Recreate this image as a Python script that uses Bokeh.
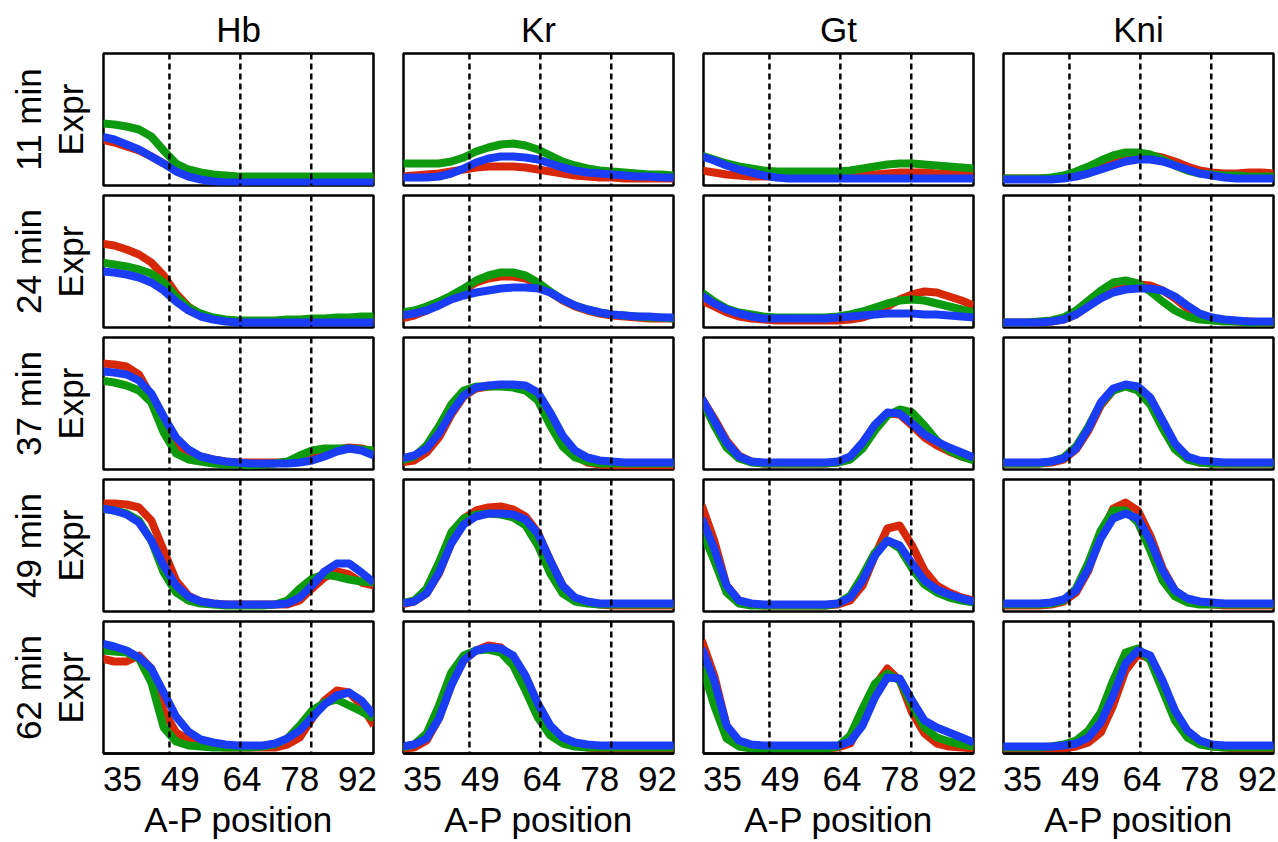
from bokeh.plotting import figure
from bokeh.layouts import column, row
from bokeh.models import Range1d, Span, FixedTicker, Title
from bokeh.embed import file_html
from bokeh.resources import INLINE

genes = ["Hb", "Kr", "Gt", "Kni"]
times = ["11 min", "24 min", "37 min", "49 min", "62 min"]
ap_pos = [30, 33, 36, 39, 42, 45, 48, 51, 54, 57, 60, 63, 66, 69, 72, 75, 78, 81, 84, 87, 90, 93, 96]
tick_vals = [35, 49, 64, 78, 92]
boundaries = [46.4, 63.6, 80.8]

# ---- 11 min ----
hb11_r = [46, 43, 39, 35, 29, 22, 16, 12, 10, 9, 8, 7, 7, 7, 7, 7, 7, 7, 7, 7, 7, 7, 7]
hb11_g = [62, 61, 59, 56, 49, 35, 22, 16, 13, 11, 10, 9, 9, 9, 9, 9, 9, 9, 9, 9, 9, 9, 9]
hb11_b = [49, 46, 41, 36, 29, 22, 14, 9, 6, 4, 3, 3, 3, 3, 3, 3, 3, 3, 3, 3, 3, 3, 3]
kr11_r = [9, 10, 11, 12, 14, 16, 18, 19, 19, 19, 18, 16, 14, 12, 10, 9, 8, 8, 7, 7, 7, 7, 7]
kr11_g = [22, 22, 22, 22, 24, 28, 34, 38, 41, 42, 40, 36, 30, 24, 20, 17, 15, 14, 13, 12, 11, 11, 10]
kr11_b = [8, 8, 8, 9, 12, 17, 23, 27, 29, 29, 28, 26, 22, 18, 15, 13, 12, 11, 10, 9, 9, 8, 8]
gt11_r = [15, 13, 11, 10, 9, 9, 9, 9, 9, 9, 9, 9, 9, 10, 11, 12, 13, 13, 13, 12, 12, 11, 11]
gt11_g = [30, 26, 22, 19, 17, 15, 14, 14, 14, 14, 14, 14, 15, 17, 19, 21, 22, 22, 21, 20, 19, 18, 17]
gt11_b = [29, 25, 20, 16, 13, 10, 8, 7, 7, 7, 7, 7, 7, 7, 7, 7, 7, 7, 7, 7, 7, 7, 7]
kni11_r = [7, 7, 7, 7, 7, 8, 11, 15, 20, 25, 28, 30, 30, 28, 24, 19, 15, 13, 12, 12, 13, 13, 12]
kni11_g = [7, 7, 7, 7, 8, 10, 14, 19, 25, 30, 33, 33, 31, 26, 20, 15, 12, 11, 10, 10, 9, 9, 9]
kni11_b = [6, 6, 6, 6, 6, 7, 9, 12, 16, 20, 24, 26, 26, 24, 20, 16, 12, 10, 8, 7, 7, 7, 7]

# ---- 24 min ----
hb24_r = [84, 82, 78, 73, 65, 52, 34, 21, 13, 9, 7, 6, 6, 6, 6, 6, 6, 6, 6, 6, 6, 6, 6]
hb24_g = [65, 63, 61, 58, 54, 45, 31, 20, 14, 10, 8, 7, 7, 7, 7, 8, 8, 9, 9, 10, 10, 11, 11]
hb24_b = [56, 55, 53, 50, 45, 37, 26, 17, 11, 8, 6, 5, 5, 5, 5, 5, 5, 5, 5, 5, 5, 5, 5]
kr24_r = [9, 12, 17, 24, 31, 38, 45, 49, 51, 51, 49, 43, 35, 27, 21, 17, 14, 12, 11, 10, 9, 9, 9]
kr24_g = [15, 17, 21, 26, 32, 39, 47, 52, 55, 55, 52, 45, 36, 28, 22, 18, 15, 13, 12, 11, 10, 10, 9]
kr24_b = [12, 14, 17, 22, 28, 32, 35, 37, 39, 40, 40, 39, 35, 28, 22, 18, 15, 13, 12, 11, 11, 10, 10]
gt24_r = [27, 21, 15, 11, 9, 8, 7, 7, 7, 7, 7, 7, 8, 10, 14, 21, 28, 33, 36, 35, 31, 27, 22]
gt24_g = [35, 26, 19, 15, 13, 11, 10, 10, 10, 10, 10, 11, 13, 16, 20, 24, 27, 28, 27, 24, 21, 18, 15]
gt24_b = [32, 24, 18, 14, 11, 9, 9, 9, 9, 9, 9, 10, 11, 12, 13, 14, 14, 14, 13, 13, 12, 11, 10]
kni24_r = [5, 5, 5, 5, 6, 8, 13, 22, 32, 39, 42, 43, 42, 37, 29, 19, 12, 9, 7, 6, 6, 5, 5]
kni24_g = [5, 5, 5, 6, 7, 10, 17, 27, 37, 45, 47, 44, 36, 26, 17, 11, 8, 7, 6, 6, 5, 5, 5]
kni24_b = [5, 5, 5, 5, 6, 8, 13, 21, 29, 35, 38, 39, 39, 37, 31, 22, 14, 10, 8, 7, 6, 6, 6]

# ---- 37 min ----
hb37_r = [106, 105, 103, 95, 73, 43, 25, 16, 13, 10, 8, 7, 7, 7, 7, 7, 8, 13, 17, 20, 22, 21, 18]
hb37_g = [89, 87, 84, 79, 67, 37, 16, 10, 8, 6, 5, 5, 4, 5, 6, 8, 14, 19, 21, 21, 21, 20, 19]
hb37_b = [98, 97, 95, 89, 76, 53, 32, 20, 13, 10, 8, 7, 6, 6, 6, 6, 7, 9, 13, 18, 21, 19, 14]
kr37_r = [7, 9, 17, 32, 55, 73, 81, 83, 84, 84, 83, 75, 54, 29, 14, 7, 5, 4, 4, 4, 4, 4, 4]
kr37_g = [9, 13, 24, 43, 65, 79, 83, 83, 83, 82, 79, 69, 44, 23, 12, 8, 6, 6, 6, 6, 6, 6, 6]
kr37_b = [11, 14, 21, 36, 57, 74, 82, 84, 85, 85, 84, 77, 57, 34, 19, 12, 9, 8, 7, 7, 7, 7, 7]
gt37_r = [71, 51, 29, 14, 8, 6, 6, 6, 6, 6, 6, 7, 11, 24, 44, 56, 55, 44, 32, 24, 18, 13, 10]
gt37_g = [69, 44, 22, 11, 7, 6, 6, 6, 6, 6, 6, 7, 10, 21, 39, 54, 60, 57, 44, 29, 19, 13, 9]
gt37_b = [71, 49, 27, 13, 8, 7, 7, 7, 7, 7, 7, 8, 13, 27, 45, 57, 56, 46, 35, 28, 22, 17, 12]
kni37_r = [6, 6, 6, 6, 7, 10, 20, 39, 64, 79, 84, 82, 69, 45, 23, 11, 7, 6, 6, 6, 6, 6, 6]
kni37_g = [6, 6, 6, 6, 8, 12, 23, 43, 66, 79, 83, 79, 65, 41, 20, 10, 7, 6, 6, 6, 6, 6, 6]
kni37_b = [7, 7, 7, 7, 8, 11, 21, 41, 67, 81, 85, 83, 72, 49, 26, 13, 9, 8, 7, 7, 7, 7, 7]

# ---- 49 min ----
hb49_r = [108, 108, 107, 104, 91, 61, 31, 16, 10, 8, 7, 7, 7, 7, 7, 7, 11, 23, 34, 40, 37, 29, 26]
hb49_g = [103, 101, 98, 91, 71, 39, 19, 11, 8, 7, 6, 6, 6, 6, 7, 11, 23, 33, 37, 35, 32, 30, 29]
hb49_b = [103, 101, 97, 89, 71, 46, 26, 15, 10, 8, 7, 7, 7, 7, 7, 8, 14, 26, 40, 48, 48, 39, 29]
kr49_r = [7, 10, 18, 38, 69, 93, 101, 104, 105, 102, 95, 79, 51, 26, 13, 9, 7, 6, 6, 6, 6, 6, 6]
kr49_g = [8, 11, 23, 49, 79, 93, 97, 98, 97, 94, 86, 66, 38, 18, 10, 8, 7, 7, 7, 7, 7, 7, 7]
kr49_b = [8, 10, 18, 39, 68, 87, 95, 98, 98, 97, 92, 78, 51, 26, 14, 10, 8, 8, 8, 8, 8, 8, 8]
gt49_r = [106, 71, 26, 11, 7, 6, 6, 6, 6, 6, 6, 7, 11, 26, 56, 83, 86, 66, 41, 26, 19, 14, 11]
gt49_g = [81, 51, 19, 8, 6, 6, 6, 6, 6, 6, 6, 8, 16, 36, 59, 71, 63, 43, 27, 19, 14, 11, 9]
gt49_b = [93, 63, 26, 11, 8, 7, 7, 7, 7, 7, 7, 8, 14, 31, 56, 71, 66, 48, 31, 22, 17, 13, 10]
kni49_r = [6, 6, 6, 6, 7, 10, 19, 41, 76, 103, 109, 101, 76, 43, 21, 11, 8, 7, 6, 6, 6, 6, 6]
kni49_g = [7, 7, 7, 7, 8, 11, 23, 49, 81, 101, 101, 89, 61, 31, 15, 9, 7, 7, 7, 7, 7, 7, 7]
kni49_b = [8, 8, 8, 8, 9, 12, 21, 43, 73, 93, 98, 93, 71, 41, 21, 13, 10, 9, 8, 8, 8, 8, 8]

# ---- 62 min ----
hb62_r = [95, 92, 92, 98, 85, 43, 21, 14, 10, 7, 6, 6, 6, 6, 6, 9, 16, 35, 53, 63, 61, 48, 28]
hb62_g = [103, 102, 101, 95, 71, 26, 12, 8, 7, 6, 6, 6, 6, 7, 9, 15, 28, 43, 51, 54, 48, 42, 35]
hb62_b = [110, 107, 103, 96, 85, 61, 37, 22, 14, 11, 9, 8, 8, 8, 10, 15, 23, 36, 49, 58, 61, 53, 38]
kr62_r = [5, 6, 13, 35, 69, 93, 103, 108, 106, 95, 73, 45, 23, 12, 8, 6, 5, 5, 5, 5, 5, 5, 5]
kr62_g = [6, 9, 20, 48, 81, 98, 103, 104, 101, 88, 63, 36, 18, 10, 7, 6, 6, 6, 6, 6, 6, 6, 6]
kr62_b = [7, 9, 15, 35, 68, 93, 103, 106, 105, 98, 78, 50, 28, 16, 11, 9, 8, 8, 8, 8, 8, 8, 8]
gt62_r = [113, 78, 28, 11, 6, 5, 5, 5, 5, 5, 5, 6, 10, 33, 68, 85, 73, 41, 20, 10, 7, 6, 5]
gt62_g = [88, 48, 15, 7, 5, 5, 5, 5, 5, 5, 5, 7, 18, 45, 70, 80, 73, 48, 26, 16, 12, 9, 7]
gt62_b = [105, 73, 28, 13, 9, 8, 8, 8, 8, 8, 8, 8, 12, 28, 56, 76, 75, 53, 33, 26, 21, 16, 11]
kni62_r = [5, 5, 5, 5, 5, 5, 7, 11, 21, 48, 83, 99, 95, 68, 38, 18, 10, 7, 6, 5, 5, 5, 5]
kni62_g = [6, 6, 6, 6, 7, 9, 13, 23, 41, 73, 101, 105, 93, 63, 33, 16, 9, 7, 6, 6, 6, 6, 6]
kni62_b = [7, 7, 7, 7, 7, 8, 10, 16, 31, 58, 90, 103, 98, 73, 43, 23, 13, 9, 8, 8, 8, 8, 8]

series = {
    ("11 min", "Hb"): (hb11_r, hb11_g, hb11_b), ("11 min", "Kr"): (kr11_r, kr11_g, kr11_b),
    ("11 min", "Gt"): (gt11_r, gt11_g, gt11_b), ("11 min", "Kni"): (kni11_r, kni11_g, kni11_b),
    ("24 min", "Hb"): (hb24_r, hb24_g, hb24_b), ("24 min", "Kr"): (kr24_r, kr24_g, kr24_b),
    ("24 min", "Gt"): (gt24_r, gt24_g, gt24_b), ("24 min", "Kni"): (kni24_r, kni24_g, kni24_b),
    ("37 min", "Hb"): (hb37_r, hb37_g, hb37_b), ("37 min", "Kr"): (kr37_r, kr37_g, kr37_b),
    ("37 min", "Gt"): (gt37_r, gt37_g, gt37_b), ("37 min", "Kni"): (kni37_r, kni37_g, kni37_b),
    ("49 min", "Hb"): (hb49_r, hb49_g, hb49_b), ("49 min", "Kr"): (kr49_r, kr49_g, kr49_b),
    ("49 min", "Gt"): (gt49_r, gt49_g, gt49_b), ("49 min", "Kni"): (kni49_r, kni49_g, kni49_b),
    ("62 min", "Hb"): (hb62_r, hb62_g, hb62_b), ("62 min", "Kr"): (kr62_r, kr62_g, kr62_b),
    ("62 min", "Gt"): (gt62_r, gt62_g, gt62_b), ("62 min", "Kni"): (kni62_r, kni62_g, kni62_b),
}

COLORS = ["#d8280a", "#0e9a0e", "#1a3cf4"]
FONT = "Liberation Sans"
FS = "35px"

rows = []
for ri, t in enumerate(times):
    figs = []
    for ci, g in enumerate(genes):
        first_col = ci == 0
        last_row = ri == len(times) - 1
        mbl = 103 if first_col else 15
        mbr = 5 if ci == len(genes) - 1 else 15
        mbt = 53 if ri == 0 else 5
        mbb = 89 if last_row else 5
        p = figure(
            width=mbl + 270 + mbr, height=mbt + 132 + mbb,
            x_range=Range1d(30.4, 95.9), y_range=Range1d(0, 132),
            output_backend="svg", toolbar_location=None,
            x_axis_location="below" if last_row else None,
            y_axis_location="left" if first_col else None,
            min_border_left=mbl, min_border_right=mbr,
            min_border_top=mbt, min_border_bottom=mbb,
        )
        p.grid.visible = False
        p.outline_line_color = "black"
        p.outline_line_width = 2.5
        p.outline_line_alpha = 1
        p.background_fill_color = "white"
        p.border_fill_color = "white"
        if ri == 0:
            p.title.text = g
            p.title.align = "center"
            p.title.vertical_align = "top"
            p.title.text_font = FONT
            p.title.text_font_size = FS
            p.title.text_font_style = "normal"
            p.title.text_color = "black"
            p.title.standoff = 6
        if first_col:
            ax = p.yaxis[0]
            ax.ticker = FixedTicker(ticks=[])
            ax.axis_line_color = None
            ax.major_tick_line_color = None
            ax.minor_tick_line_color = None
            ax.axis_label = "Expr"
            ax.axis_label_text_font = FONT
            ax.axis_label_text_font_size = FS
            ax.axis_label_text_font_style = "normal"
            ax.axis_label_text_color = "black"
            ax.axis_label_standoff = 14
            lt = Title(text=t, align="center", text_font=FONT, text_font_size=FS,
                       text_font_style="normal", text_color="black", standoff=0)
            p.add_layout(lt, "left")
        if last_row:
            ax = p.xaxis[0]
            ax.ticker = FixedTicker(ticks=tick_vals)
            ax.axis_line_color = "black"
            ax.axis_line_width = 2.5
            ax.major_tick_line_color = None
            ax.minor_tick_line_color = None
            ax.major_label_text_font = FONT
            ax.major_label_text_font_size = FS
            ax.major_label_text_color = "black"
            ax.major_label_standoff = 7
            ax.axis_label = "A-P position"
            ax.axis_label_text_font = FONT
            ax.axis_label_text_font_size = FS
            ax.axis_label_text_font_style = "normal"
            ax.axis_label_text_color = "black"
            ax.axis_label_standoff = 6
        for ys, col in zip(series[(t, g)], COLORS):
            p.line(ap_pos, ys, line_color=col, line_width=8, line_join="round")
        for b in boundaries:
            p.add_layout(Span(location=b, dimension="height", line_color="black",
                              line_width=2.5, line_dash="6 4"))
        figs.append(p)
    rows.append(row(*figs))

layout = column(*rows)
open("out.html", "w").write(file_html(layout, INLINE))
